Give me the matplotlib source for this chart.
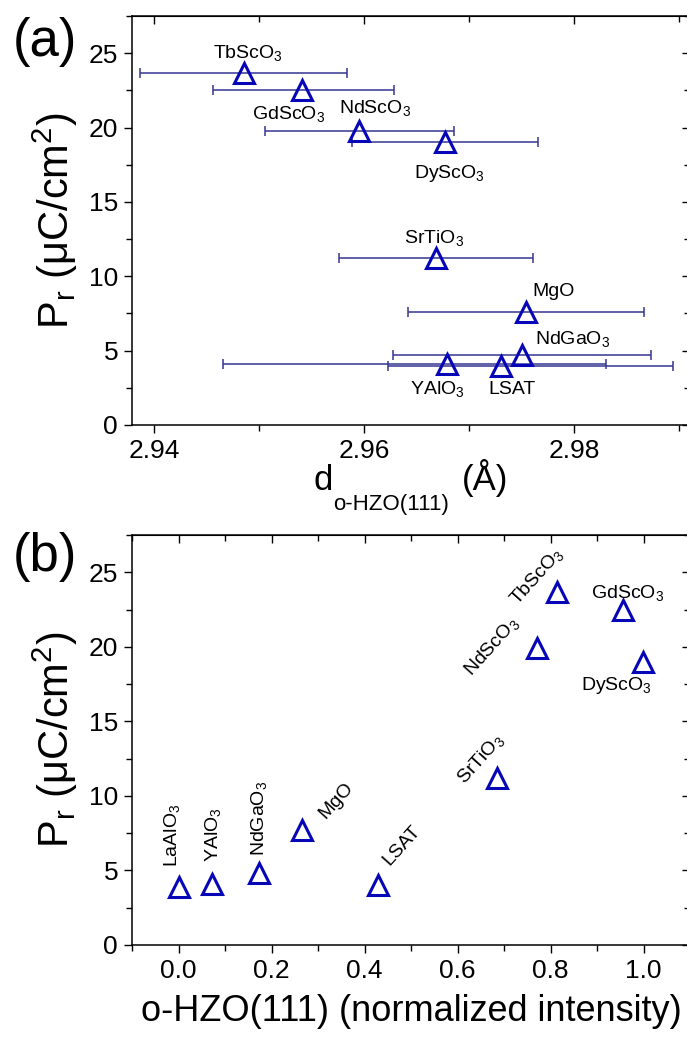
import matplotlib
matplotlib.use("Agg")
import matplotlib.pyplot as plt
from matplotlib.ticker import MultipleLocator

plt.rcParams['font.family'] = ['Liberation Sans', 'DejaVu Sans']
plt.rcParams['mathtext.default'] = 'regular'

# panel (a): Pr vs d spacing, with x error bars
names_a = ['TbScO$_3$', 'GdScO$_3$', 'NdScO$_3$', 'DyScO$_3$', 'SrTiO$_3$',
           'MgO', 'NdGaO$_3$', 'YAlO$_3$', 'LSAT']
d_a = [2.9486, 2.9541, 2.9595, 2.9677, 2.9668, 2.9754, 2.9750, 2.9679, 2.9730]
pr_a = [23.7, 22.5, 19.8, 19.0, 11.2, 7.6, 4.7, 4.1, 4.0]
err_lo = [0.0099, 0.0085, 0.0089, 0.0089, 0.0092, 0.0112, 0.0123, 0.0213, 0.0107]
err_hi = [0.0098, 0.0087, 0.0090, 0.0088, 0.0093, 0.0112, 0.0123, 0.0151, 0.0164]
# label centres for panel (a)
lab_xa = [2.9489, 2.9528, 2.9610, 2.9681, 2.9666, 2.9780, 2.9798, 2.9670, 2.9741]
lab_ya = [25.0, 20.9, 21.3, 16.9, 12.6, 9.0, 5.8, 2.4, 2.4]

# panel (b): Pr vs normalized intensity
names_b = ['LaAlO$_3$', 'YAlO$_3$', 'NdGaO$_3$', 'MgO', 'LSAT', 'SrTiO$_3$',
           'NdScO$_3$', 'TbScO$_3$', 'GdScO$_3$', 'DyScO$_3$']
inten_b = [0.0, 0.073, 0.174, 0.266, 0.430, 0.686, 0.770, 0.815, 0.956, 1.0]
pr_b = [3.9, 4.1, 4.8, 7.7, 4.0, 11.2, 19.9, 23.7, 22.5, 19.0]
lab_xb = [-0.014, 0.075, 0.174, 0.339, 0.480, 0.650, 0.673, 0.770, 0.965, 0.942]
lab_yb = [7.35, 7.4, 8.5, 9.7, 6.7, 12.5, 20.0, 24.7, 23.6, 17.4]
rot_b = [90, 90, 90, 48, 48, 48, 48, 48, 0, 0]

W, H = 687, 1044
mk = '#0606b8'
ecol = '#363692'

fig = plt.figure(figsize=(W / 100, H / 100), dpi=100)
ax1 = fig.add_axes([132 / W, 1 - 425 / H, 558 / W, 409 / H])
ax2 = fig.add_axes([132 / W, 1 - 945 / H, 558 / W, 410 / H])


def style(ax):
    ax.set_ylim(0, 27.5)
    ax.yaxis.set_major_locator(MultipleLocator(5))
    ax.yaxis.set_minor_locator(MultipleLocator(2.5))
    ax.tick_params(which='both', direction='out', top=False, right=False,
                   labelsize=19, pad=4, width=1.0)
    ax.tick_params(which='major', length=6)
    ax.tick_params(which='minor', length=4)
    sec = ax.secondary_xaxis('top')
    sec.tick_params(which='both', direction='in', labeltop=False, width=1.0)
    sec.tick_params(which='major', length=6)
    sec.tick_params(which='minor', length=4)
    secy = ax.secondary_yaxis('right')
    secy.tick_params(which='both', direction='in', labelright=False, width=1.0)
    secy.tick_params(which='major', length=6)
    secy.tick_params(which='minor', length=4)
    for s in ax.spines.values():
        s.set_linewidth(1.1)
    return sec, secy


ax1.errorbar(d_a, pr_a, xerr=[err_lo, err_hi], fmt='none', ecolor=ecol,
             elinewidth=1.1, capsize=3.5, capthick=1.1)
ax1.plot(d_a, pr_a, '^', ms=14, mfc='none', mec=mk, mew=2.2)
ax1.set_xlim(2.9379, 2.9910)
ax1.xaxis.set_major_locator(MultipleLocator(0.02))
ax1.xaxis.set_minor_locator(MultipleLocator(0.01))
s1, sy1 = style(ax1)
s1.xaxis.set_major_locator(MultipleLocator(0.02))
s1.xaxis.set_minor_locator(MultipleLocator(0.01))
sy1.yaxis.set_major_locator(MultipleLocator(5))
sy1.yaxis.set_minor_locator(MultipleLocator(2.5))
for n, x, y in zip(names_a, lab_xa, lab_ya):
    ax1.text(x, y, n, fontsize=14, ha='center', va='center')

ax2.plot(inten_b, pr_b, '^', ms=14, mfc='none', mec=mk, mew=2.2)
ax2.set_xlim(-0.1, 1.1)
ax2.xaxis.set_major_locator(MultipleLocator(0.2))
ax2.xaxis.set_minor_locator(MultipleLocator(0.1))
ax2.xaxis.set_major_formatter(plt.FormatStrFormatter('%.1f'))
s2, sy2 = style(ax2)
s2.xaxis.set_major_locator(MultipleLocator(0.2))
s2.xaxis.set_minor_locator(MultipleLocator(0.1))
sy2.yaxis.set_major_locator(MultipleLocator(5))
sy2.yaxis.set_minor_locator(MultipleLocator(2.5))
for n, x, y, r in zip(names_b, lab_xb, lab_yb, rot_b):
    ax2.text(x, y, n, fontsize=14, ha='center', va='center', rotation=r,
             rotation_mode='anchor')

# axis labels
for ax in (ax1, ax2):
    ax.set_ylabel('P$_r$ (\u03bcC/cm$^2$)', fontsize=30, labelpad=6)
fig.text(323 / W, 1 - 481 / H, 'd', fontsize=25, ha='center', va='center')
fig.text(391 / W, 1 - 504 / H, 'o-HZO(111)', fontsize=16, ha='center', va='center')
fig.text(485 / W, 1 - 478 / H, '(\u00c5)', fontsize=25, ha='center', va='center')
ax2.set_xlabel('o-HZO(111) (normalized intensity)', fontsize=26, labelpad=8)

fig.text(45 / W, 1 - 42 / H, '(a)', fontsize=38, ha='center', va='center')
fig.text(45 / W, 1 - 557 / H, '(b)', fontsize=38, ha='center', va='center')

fig.savefig('out.png', dpi=100)
